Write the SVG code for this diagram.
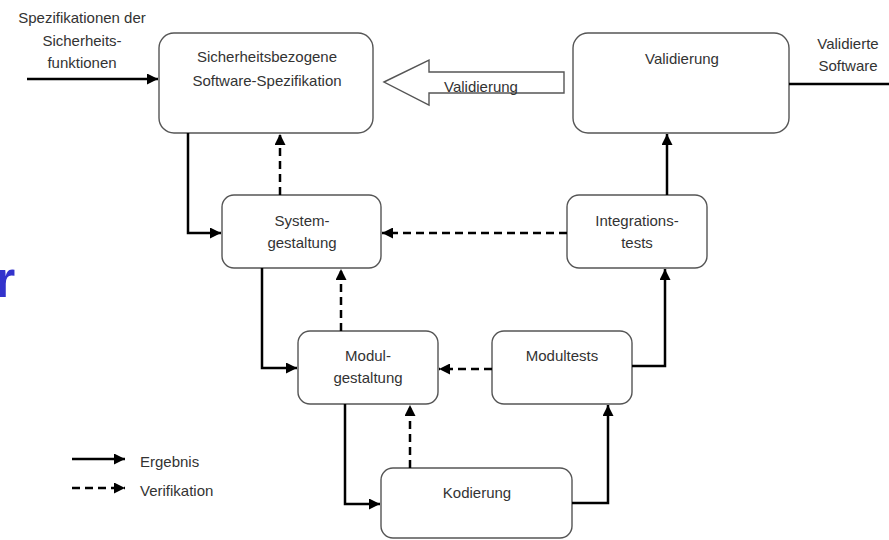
<svg xmlns="http://www.w3.org/2000/svg" width="889" height="540" viewBox="0 0 889 540">
<defs>
<style>
.box{fill:#fff;stroke:#555;stroke-width:1.4}
.t{font-family:"Liberation Sans",Arial,sans-serif;font-size:15px;fill:#333;text-anchor:middle}
.tl{font-family:"Liberation Sans",Arial,sans-serif;font-size:15px;fill:#333}
.s{fill:none;stroke:#000;stroke-width:2.5}
.d{fill:none;stroke:#000;stroke-width:2.5;stroke-dasharray:8 5}
</style>
<marker id="ah" viewBox="0 0 10 10" refX="10" refY="5" markerWidth="12" markerHeight="11" markerUnits="userSpaceOnUse" orient="auto">
<path d="M0,0 L10,5 L0,10 z" fill="#000"/>
</marker>
</defs>
<rect width="889" height="540" fill="#fff"/>
<text x="-5" y="297" font-family="Liberation Sans,Arial,sans-serif" font-weight="bold" font-size="52" fill="#3333cc">r</text>
<g id="inputlabel">
<text class="t" x="82" y="23">Spezifikationen der</text>
<text class="t" x="82" y="46">Sicherheits-</text>
<text class="t" x="82" y="68">funktionen</text>
</g>
<g id="outputlabel">
<text class="t" x="848" y="49">Validierte</text>
<text class="t" x="848" y="71">Software</text>
</g>
<g id="spec"><rect class="box" x="159" y="33" width="214" height="100" rx="15"/>
<text class="t" x="267" y="62">Sicherheitsbezogene</text>
<text class="t" x="267" y="86">Software-Spezifikation</text></g>
<g id="valid"><rect class="box" x="573" y="33" width="216" height="100" rx="15"/>
<text class="t" x="682" y="64">Validierung</text></g>
<g id="system"><rect class="box" x="222" y="195" width="159" height="73" rx="12"/>
<text class="t" x="302" y="226">System-</text>
<text class="t" x="302" y="248">gestaltung</text></g>
<g id="integ"><rect class="box" x="567" y="195" width="140" height="73" rx="12"/>
<text class="t" x="637" y="226">Integrations-</text>
<text class="t" x="637" y="248">tests</text></g>
<g id="modul"><rect class="box" x="298" y="331" width="140" height="73" rx="12"/>
<text class="t" x="368" y="361">Modul-</text>
<text class="t" x="368" y="383">gestaltung</text></g>
<g id="modultests"><rect class="box" x="492" y="331" width="140" height="73" rx="12"/>
<text class="t" x="562" y="361">Modultests</text></g>
<g id="kod"><rect class="box" x="381" y="468" width="191" height="70" rx="12"/>
<text class="t" x="477" y="498">Kodierung</text></g>
<g id="validarrow">
<path d="M384,82 L429,60 L429,72 L564,72 L564,93 L429,93 L429,105 Z" fill="#fff" stroke="#555" stroke-width="1.4"/>
<text class="tl" x="444" y="92">Validierung</text>
</g>
<g id="connectors">
<path class="s" d="M27,79 H158" marker-end="url(#ah)"/>
<path class="s" d="M789,84 H889"/>
<path class="s" d="M188,133 V233 H221" marker-end="url(#ah)"/>
<path class="d" d="M280,195 V134" marker-end="url(#ah)"/>
<path class="d" d="M567,233 H382" marker-end="url(#ah)"/>
<path class="s" d="M667,195 V134" marker-end="url(#ah)"/>
<path class="s" d="M262,268 V368 H297" marker-end="url(#ah)"/>
<path class="d" d="M341,331 V269" marker-end="url(#ah)"/>
<path class="d" d="M492,369 H439" marker-end="url(#ah)"/>
<path class="s" d="M632,366 H665 V269" marker-end="url(#ah)"/>
<path class="s" d="M345,404 V504 H380" marker-end="url(#ah)"/>
<path class="d" d="M410,468 V405" marker-end="url(#ah)"/>
<path class="s" d="M572,503 H608 V405" marker-end="url(#ah)"/>
</g>
<g id="legend">
<path class="s" d="M72,459 H125" stroke-width="2" marker-end="url(#ah)"/>
<path class="d" d="M72,488 H125" stroke-width="2" marker-end="url(#ah)"/>
<text class="tl" x="140" y="467">Ergebnis</text>
<text class="tl" x="140" y="496">Verifikation</text>
</g>
</svg>
